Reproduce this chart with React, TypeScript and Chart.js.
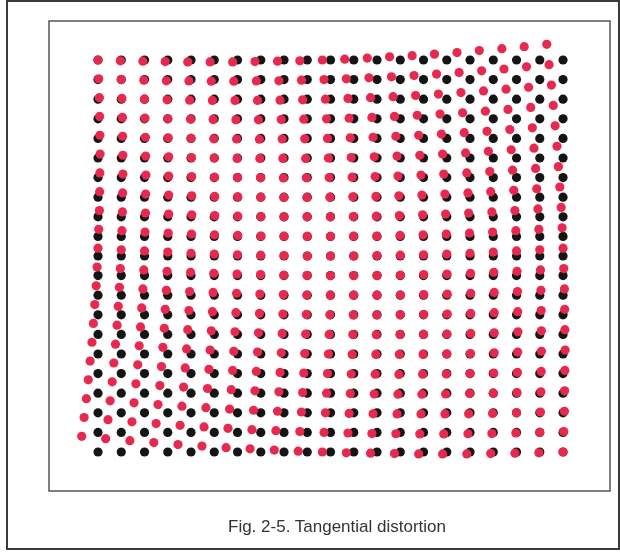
import { useEffect, useRef } from "react";
import { Chart, registerables } from "chart.js";

Chart.register(...registerables);

// Undistorted grid (black dots): column and row indices
const gridCols = [0, 1, 2, 3, 4, 5, 6, 7, 8, 9, 10, 11, 12, 13, 14, 15, 16, 17, 18, 19, 20];
const gridRows = [0, 1, 2, 3, 4, 5, 6, 7, 8, 9, 10, 11, 12, 13, 14, 15, 16, 17, 18, 19, 20];

// Distorted grid (red dots): horizontal offset from each black dot, in grid units (row by row)
const redDX = [
  [0, -0.04, -0.07, -0.11, -0.14, -0.18, -0.21, -0.25, -0.28, -0.32, -0.35, -0.39, -0.42, -0.46, -0.49, -0.53, -0.56, -0.60, -0.63, -0.67, -0.70],
  [0.03, 0, -0.03, -0.06, -0.09, -0.13, -0.16, -0.19, -0.22, -0.25, -0.28, -0.32, -0.35, -0.38, -0.41, -0.44, -0.47, -0.50, -0.54, -0.57, -0.60],
  [0.06, 0.03, 0, -0.03, -0.06, -0.08, -0.11, -0.14, -0.17, -0.20, -0.22, -0.25, -0.28, -0.31, -0.34, -0.36, -0.39, -0.42, -0.45, -0.48, -0.50],
  [0.07, 0.05, 0.02, 0, -0.02, -0.05, -0.07, -0.10, -0.12, -0.15, -0.17, -0.20, -0.22, -0.25, -0.27, -0.29, -0.32, -0.34, -0.37, -0.39, -0.42],
  [0.08, 0.06, 0.04, 0.02, 0, -0.02, -0.04, -0.06, -0.08, -0.11, -0.13, -0.15, -0.17, -0.19, -0.21, -0.23, -0.25, -0.27, -0.29, -0.32, -0.34],
  [0.09, 0.07, 0.05, 0.04, 0.02, 0, -0.02, -0.04, -0.05, -0.07, -0.09, -0.11, -0.12, -0.14, -0.16, -0.18, -0.19, -0.21, -0.23, -0.25, -0.26],
  [0.08, 0.07, 0.06, 0.04, 0.03, 0.01, 0, -0.01, -0.03, -0.04, -0.06, -0.07, -0.08, -0.10, -0.11, -0.13, -0.14, -0.15, -0.17, -0.18, -0.20],
  [0.07, 0.06, 0.05, 0.04, 0.03, 0.02, 0.01, 0, -0.01, -0.02, -0.03, -0.04, -0.05, -0.06, -0.07, -0.08, -0.09, -0.11, -0.12, -0.13, -0.14],
  [0.06, 0.05, 0.04, 0.04, 0.03, 0.02, 0.01, 0.01, 0, -0.01, -0.01, -0.02, -0.03, -0.04, -0.04, -0.05, -0.06, -0.06, -0.07, -0.08, -0.08],
  [0.03, 0.03, 0.02, 0.02, 0.02, 0.01, 0.01, 0.01, 0, 0, 0, -0.01, -0.01, -0.01, -0.02, -0.02, -0.02, -0.03, -0.03, -0.04, -0.04],
  [0, 0, 0, 0, 0, 0, 0, 0, 0, 0, 0, 0, 0, 0, 0, 0, 0, 0, 0, 0, 0],
  [-0.04, -0.04, -0.03, -0.03, -0.02, -0.02, -0.02, -0.01, -0.01, -0.01, 0, 0, 0, 0.01, 0.01, 0.01, 0.02, 0.02, 0.02, 0.03, 0.03],
  [-0.08, -0.08, -0.07, -0.06, -0.06, -0.05, -0.04, -0.04, -0.03, -0.02, -0.01, -0.01, 0, 0.01, 0.01, 0.02, 0.03, 0.04, 0.04, 0.05, 0.06],
  [-0.14, -0.13, -0.12, -0.11, -0.09, -0.08, -0.07, -0.06, -0.05, -0.04, -0.03, -0.02, -0.01, 0, 0.01, 0.02, 0.03, 0.04, 0.05, 0.06, 0.07],
  [-0.20, -0.18, -0.17, -0.15, -0.14, -0.13, -0.11, -0.10, -0.08, -0.07, -0.06, -0.04, -0.03, -0.01, 0, 0.01, 0.03, 0.04, 0.06, 0.07, 0.08],
  [-0.26, -0.25, -0.23, -0.21, -0.19, -0.18, -0.16, -0.14, -0.12, -0.11, -0.09, -0.07, -0.05, -0.04, -0.02, 0, 0.02, 0.04, 0.05, 0.07, 0.09],
  [-0.34, -0.32, -0.29, -0.27, -0.25, -0.23, -0.21, -0.19, -0.17, -0.15, -0.13, -0.11, -0.08, -0.06, -0.04, -0.02, 0, 0.02, 0.04, 0.06, 0.08],
  [-0.42, -0.39, -0.37, -0.34, -0.32, -0.29, -0.27, -0.25, -0.22, -0.20, -0.17, -0.15, -0.12, -0.10, -0.07, -0.05, -0.02, 0, 0.02, 0.05, 0.07],
  [-0.50, -0.48, -0.45, -0.42, -0.39, -0.36, -0.34, -0.31, -0.28, -0.25, -0.22, -0.20, -0.17, -0.14, -0.11, -0.08, -0.06, -0.03, 0, 0.03, 0.06],
  [-0.60, -0.57, -0.54, -0.50, -0.47, -0.44, -0.41, -0.38, -0.35, -0.32, -0.28, -0.25, -0.22, -0.19, -0.16, -0.13, -0.09, -0.06, -0.03, 0, 0.03],
  [-0.70, -0.67, -0.63, -0.60, -0.56, -0.53, -0.49, -0.46, -0.42, -0.39, -0.35, -0.32, -0.28, -0.25, -0.21, -0.18, -0.14, -0.11, -0.07, -0.04, 0],
];

// Distorted grid (red dots): vertical offset from each black dot, in grid units (positive = downward)
const redDY = [
  [0, 0.04, 0.06, 0.08, 0.10, 0.10, 0.10, 0.08, 0.06, 0.04, 0, -0.04, -0.10, -0.16, -0.22, -0.30, -0.38, -0.48, -0.58, -0.68, -0.80],
  [-0.04, 0, 0.03, 0.06, 0.07, 0.08, 0.08, 0.07, 0.06, 0.03, 0, -0.04, -0.09, -0.14, -0.21, -0.28, -0.36, -0.45, -0.54, -0.65, -0.76],
  [-0.08, -0.04, 0, 0.03, 0.05, 0.06, 0.06, 0.06, 0.05, 0.03, 0, -0.04, -0.08, -0.13, -0.19, -0.26, -0.34, -0.42, -0.51, -0.61, -0.72],
  [-0.12, -0.07, -0.03, 0, 0.02, 0.04, 0.05, 0.05, 0.04, 0.02, 0, -0.03, -0.07, -0.12, -0.18, -0.24, -0.31, -0.39, -0.48, -0.58, -0.68],
  [-0.16, -0.11, -0.06, -0.03, 0, 0.02, 0.03, 0.04, 0.03, 0.02, 0, -0.03, -0.06, -0.11, -0.16, -0.22, -0.29, -0.36, -0.45, -0.54, -0.64],
  [-0.20, -0.14, -0.10, -0.06, -0.02, 0, 0.02, 0.02, 0.02, 0.02, 0, -0.02, -0.06, -0.10, -0.14, -0.20, -0.26, -0.34, -0.42, -0.50, -0.60],
  [-0.24, -0.18, -0.13, -0.08, -0.05, -0.02, 0, 0.01, 0.02, 0.01, 0, -0.02, -0.05, -0.08, -0.13, -0.18, -0.24, -0.31, -0.38, -0.47, -0.56],
  [-0.28, -0.22, -0.16, -0.11, -0.07, -0.04, -0.02, 0, 0.01, 0.01, 0, -0.02, -0.04, -0.07, -0.11, -0.16, -0.22, -0.28, -0.35, -0.43, -0.52],
  [-0.32, -0.25, -0.19, -0.14, -0.10, -0.06, -0.03, -0.01, 0, 0, 0, -0.01, -0.03, -0.06, -0.10, -0.14, -0.19, -0.25, -0.32, -0.40, -0.48],
  [-0.36, -0.29, -0.22, -0.17, -0.12, -0.08, -0.05, -0.02, -0.01, 0, 0, -0.01, -0.02, -0.05, -0.08, -0.12, -0.17, -0.22, -0.29, -0.36, -0.44],
  [-0.40, -0.32, -0.26, -0.20, -0.14, -0.10, -0.06, -0.04, -0.02, 0, 0, 0, -0.02, -0.04, -0.06, -0.10, -0.14, -0.20, -0.26, -0.32, -0.40],
  [-0.44, -0.36, -0.29, -0.22, -0.17, -0.12, -0.08, -0.05, -0.02, -0.01, 0, 0, -0.01, -0.02, -0.05, -0.08, -0.12, -0.17, -0.22, -0.29, -0.36],
  [-0.48, -0.40, -0.32, -0.25, -0.19, -0.14, -0.10, -0.06, -0.03, -0.01, 0, 0, 0, -0.01, -0.03, -0.06, -0.10, -0.14, -0.19, -0.25, -0.32],
  [-0.52, -0.43, -0.35, -0.28, -0.22, -0.16, -0.11, -0.07, -0.04, -0.02, 0, 0.01, 0.01, 0, -0.02, -0.04, -0.07, -0.11, -0.16, -0.22, -0.28],
  [-0.56, -0.47, -0.38, -0.31, -0.24, -0.18, -0.13, -0.08, -0.05, -0.02, 0, 0.01, 0.02, 0.01, 0, -0.02, -0.05, -0.08, -0.13, -0.18, -0.24],
  [-0.60, -0.50, -0.42, -0.34, -0.26, -0.20, -0.14, -0.10, -0.06, -0.02, 0, 0.02, 0.02, 0.02, 0.02, 0, -0.02, -0.06, -0.10, -0.14, -0.20],
  [-0.64, -0.54, -0.45, -0.36, -0.29, -0.22, -0.16, -0.11, -0.06, -0.03, 0, 0.02, 0.03, 0.04, 0.03, 0.02, 0, -0.03, -0.06, -0.11, -0.16],
  [-0.68, -0.58, -0.48, -0.39, -0.31, -0.24, -0.18, -0.12, -0.07, -0.03, 0, 0.02, 0.04, 0.05, 0.05, 0.04, 0.02, 0, -0.03, -0.07, -0.12],
  [-0.72, -0.61, -0.51, -0.42, -0.34, -0.26, -0.19, -0.13, -0.08, -0.04, 0, 0.03, 0.05, 0.06, 0.06, 0.06, 0.05, 0.03, 0, -0.04, -0.08],
  [-0.76, -0.65, -0.54, -0.45, -0.36, -0.28, -0.21, -0.14, -0.09, -0.04, 0, 0.03, 0.06, 0.07, 0.08, 0.08, 0.07, 0.06, 0.03, 0, -0.04],
  [-0.80, -0.68, -0.58, -0.48, -0.38, -0.30, -0.22, -0.16, -0.10, -0.04, 0, 0.04, 0.06, 0.08, 0.10, 0.10, 0.10, 0.08, 0.06, 0.04, 0],
];

const captionText = "Fig. 2-5. Tangential distortion";

export default function App() {
  const canvasRef = useRef<HTMLCanvasElement | null>(null);

  useEffect(() => {
    const canvas = canvasRef.current;
    if (!canvas) return;

    const blackPts: { x: number; y: number }[] = [];
    const redPts: { x: number; y: number }[] = [];
    gridRows.forEach((r, j) => {
      gridCols.forEach((c, i) => {
        blackPts.push({ x: c, y: r });
        redPts.push({ x: c + redDX[j][i], y: r + redDY[j][i] });
      });
    });

    const framePlugin = {
      id: "frames",
      beforeDraw(chart: any) {
        const ctx = chart.ctx as CanvasRenderingContext2D;
        ctx.save();
        ctx.fillStyle = "#ffffff";
        ctx.fillRect(0, 0, chart.width, chart.height);
        ctx.strokeStyle = "#3a3a3a";
        ctx.lineWidth = 2;
        ctx.strokeRect(7, 1, 612, 548);
        const a = chart.chartArea;
        ctx.strokeStyle = "#555555";
        ctx.lineWidth = 1.5;
        ctx.strokeRect(a.left, a.top, a.right - a.left, a.bottom - a.top);
        ctx.restore();
      },
    };

    const chart = new Chart(canvas, {
      type: "scatter",
      data: {
        datasets: [
          {
            label: "distorted",
            data: redPts,
            backgroundColor: "#e8294f",
            borderWidth: 0,
            pointRadius: 4.6,
            order: 0,
          },
          {
            label: "grid",
            data: blackPts,
            backgroundColor: "#151515",
            borderWidth: 0,
            pointRadius: 4.6,
            order: 1,
          },
        ],
      },
      options: {
        responsive: false,
        animation: false,
        events: [],
        layout: { padding: { left: 49, top: 21, right: 10, bottom: 61 } },
        plugins: {
          legend: { display: false },
          tooltip: { enabled: false },
          title: { display: false },
        },
        scales: {
          x: { type: "linear", display: false, min: -2.108, max: 22.02 },
          y: { type: "linear", display: false, reverse: true, min: -1.99, max: 21.99 },
        },
      },
      plugins: [framePlugin],
    });

    return () => chart.destroy();
  }, []);

  return (
    <div
      style={{
        position: "fixed",
        left: 0,
        top: 0,
        width: 620,
        height: 552,
        background: "#ffffff",
        overflow: "hidden",
      }}
    >
      <canvas ref={canvasRef} width={620} height={552} style={{ display: "block" }} />
      <div
        style={{
          position: "absolute",
          left: 187,
          top: 517,
          width: 300,
          textAlign: "center",
          fontFamily: '"Liberation Sans", Arial, sans-serif',
          fontSize: 17,
          lineHeight: "20px",
          color: "#333333",
          whiteSpace: "nowrap",
        }}
      >
        {captionText}
      </div>
    </div>
  );
}
